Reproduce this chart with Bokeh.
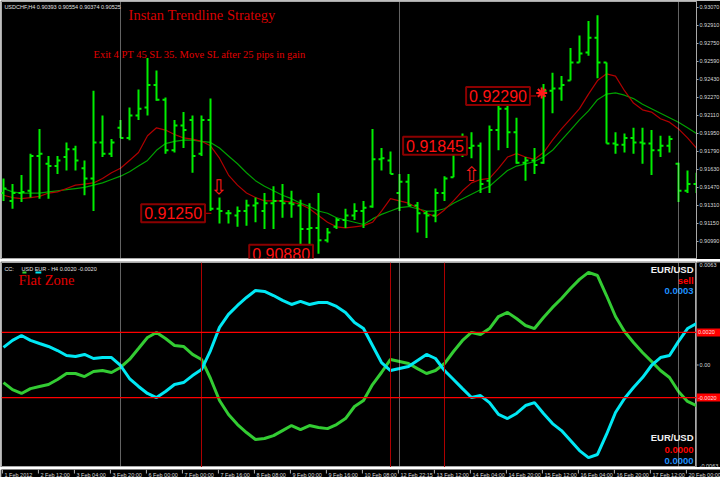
import numpy as np
from bokeh.plotting import figure
from bokeh.layouts import column, row
from bokeh.models import Range1d, LinearAxis, FixedTicker, PrintfTickFormatter, Span, Label
from bokeh.core.properties import value
from bokeh.embed import file_html
from bokeh.resources import INLINE

# ---------------- data ----------------
open_ = [0.9142,0.9135,0.9142,0.9144,0.9175,0.9168,0.9166,0.9174,0.9181,0.9164,
         0.9155,0.9187,0.9177,0.9200,0.9191,0.9211,0.9218,0.9238,0.9225,0.9180,
         0.9202,0.9207,0.9177,0.9207,0.9128,0.9124,0.9122,0.9126,0.9131,0.9126,
         0.9133,0.9135,0.9133,0.9131,0.9110,0.9111,0.9100,0.9112,0.9118,0.9122,
         0.9126,0.9130,0.9172,0.9171,0.9142,0.9152,0.9131,0.9124,0.9122,0.9142,
         0.9156,0.9185,0.9182,0.9184,0.9153,0.9198,0.9217,0.9196,0.9169,0.9171,
         0.9169,0.9233,0.9235,0.9242,0.9258,0.9267,0.9280,0.9258,0.9186,0.9185,
         0.9191,0.9187,0.9186,0.9180,0.9184,0.9168,0.9144,0.9150]
high_ = [0.9155,0.9150,0.9158,0.9177,0.9199,0.9175,0.9175,0.9187,0.9184,0.9171,
         0.9233,0.9211,0.9190,0.9207,0.9218,0.9234,0.9262,0.9251,0.9227,0.9207,
         0.9214,0.9211,0.9211,0.9226,0.9138,0.9127,0.9130,0.9136,0.9138,0.9142,
         0.9148,0.9150,0.9144,0.9136,0.9133,0.9142,0.9111,0.9120,0.9128,0.9133,
         0.9135,0.9199,0.9182,0.9179,0.9159,0.9159,0.9134,0.9126,0.9146,0.9157,
         0.9190,0.9195,0.9196,0.9187,0.9202,0.9229,0.9224,0.9209,0.9174,0.9182,
         0.9239,0.9249,0.9246,0.9271,0.9282,0.9295,0.9300,0.9258,0.9196,0.9195,
         0.9200,0.9200,0.9198,0.9193,0.9193,0.9169,0.9162,0.9160]
low_ = [0.9135,0.9128,0.9134,0.9138,0.9137,0.9137,0.9159,0.9162,0.9162,0.9140,
        0.9126,0.9174,0.9174,0.9191,0.9189,0.9207,0.9211,0.9224,0.9177,0.9178,
        0.9182,0.9160,0.9175,0.9126,0.9115,0.9115,0.9112,0.9113,0.9116,0.9110,
        0.9110,0.9120,0.9120,0.9089,0.9088,0.9088,0.9098,0.9110,0.9111,0.9118,
        0.9111,0.9129,0.9162,0.9159,0.9126,0.9131,0.9107,0.9102,0.9116,0.9135,
        0.9156,0.9174,0.9173,0.9142,0.9142,0.9180,0.9182,0.9168,0.9153,0.9159,
        0.9168,0.9213,0.9224,0.9242,0.9258,0.9264,0.9244,0.9186,0.9177,0.9178,
        0.9177,0.9168,0.9158,0.9174,0.9178,0.9134,0.9142,0.9142]
close_ = [0.9146,0.9142,0.9143,0.9175,0.9177,0.9166,0.9171,0.9181,0.9171,0.9155,
          0.9187,0.9177,0.9187,0.9191,0.9211,0.9217,0.9238,0.9225,0.9180,0.9202,
          0.9198,0.9175,0.9207,0.9128,0.9126,0.9124,0.9126,0.9131,0.9133,0.9133,
          0.9135,0.9133,0.9132,0.9110,0.9111,0.9100,0.9107,0.9118,0.9122,0.9126,
          0.9129,0.9172,0.9173,0.9159,0.9152,0.9131,0.9124,0.9122,0.9142,0.9155,
          0.9185,0.9182,0.9184,0.9150,0.9198,0.9217,0.9196,0.9169,0.9171,0.9167,
          0.9233,0.9235,0.9238,0.9258,0.9266,0.9280,0.9258,0.9186,0.9185,0.9191,
          0.9187,0.9186,0.9180,0.9184,0.9190,0.9144,0.9150,0.9150]
ma_fast = [0.9140,0.9138,0.9137,0.9138,0.9139,0.9142,0.9143,0.9146,0.9149,0.9150,
           0.9151,0.9155,0.9160,0.9164,0.9171,0.9178,0.9193,0.9200,0.9198,0.9194,
           0.9191,0.9190,0.9188,0.9184,0.9173,0.9158,0.9149,0.9142,0.9138,0.9135,
           0.9135,0.9135,0.9134,0.9132,0.9128,0.9122,0.9116,0.9112,0.9111,0.9112,
           0.9113,0.9116,0.9126,0.9137,0.9135,0.9133,0.9129,0.9124,0.9121,0.9127,
           0.9135,0.9144,0.9151,0.9154,0.9155,0.9164,0.9174,0.9177,0.9174,0.9172,
           0.9178,0.9189,0.9199,0.9208,0.9217,0.9230,0.9242,0.9248,0.9246,0.9233,
           0.9222,0.9216,0.9214,0.9208,0.9205,0.9199,0.9191,0.9182]
ma_slow = [0.9146,0.9143,0.9142,0.9142,0.9142,0.9143,0.9144,0.9145,0.9146,0.9147,
           0.9149,0.9151,0.9154,0.9157,0.9161,0.9166,0.9171,0.9180,0.9186,0.9188,
           0.9189,0.9189,0.9188,0.9187,0.9182,0.9175,0.9168,0.9160,0.9153,0.9148,
           0.9144,0.9140,0.9137,0.9133,0.9130,0.9126,0.9124,0.9120,0.9118,0.9116,
           0.9114,0.9119,0.9123,0.9126,0.9129,0.9130,0.9128,0.9126,0.9126,0.9128,
           0.9133,0.9137,0.9141,0.9145,0.9148,0.9155,0.9162,0.9166,0.9168,0.9170,
           0.9174,0.9180,0.9189,0.9198,0.9207,0.9215,0.9225,0.9230,0.9231,0.9229,
           0.9226,0.9221,0.9217,0.9213,0.9209,0.9205,0.9200,0.9195]
usd_line = [0.00108,0.00151,0.00181,0.00151,0.00132,0.00114,0.00089,0.00058,0.00052,0.00065,
            0.00040,0.00046,0.00046,-0.00003,-0.00083,-0.00132,-0.00175,-0.00200,-0.00163,-0.00120,
            -0.00108,-0.00065,-0.00028,0.00089,0.00231,0.00311,0.00366,0.00415,0.00458,0.00452,
            0.00427,0.00397,0.00372,0.00391,0.00372,0.00384,0.00384,0.00360,0.00323,0.00261,
            0.00224,0.00120,0.00015,-0.00034,-0.00022,-0.00009,0.00028,0.00065,0.00040,-0.00034,
            -0.00089,-0.00145,-0.00200,-0.00188,-0.00231,-0.00304,-0.00329,-0.00298,-0.00249,-0.00231,
            -0.00298,-0.00360,-0.00403,-0.00464,-0.00526,-0.00569,-0.00550,-0.00427,-0.00292,-0.00206,
            -0.00138,-0.00077,-0.00003,0.00046,0.00058,0.00145,0.00224,0.00255]
eur_line = [-0.00108,-0.00151,-0.00175,-0.00145,-0.00132,-0.00120,-0.00089,-0.00052,-0.00052,-0.00071,
            -0.00040,-0.00034,-0.00046,-0.00015,0.00034,0.00101,0.00169,0.00200,0.00163,0.00120,
            0.00114,0.00065,0.00034,-0.00083,-0.00218,-0.00304,-0.00366,-0.00415,-0.00458,-0.00452,
            -0.00434,-0.00403,-0.00372,-0.00397,-0.00372,-0.00384,-0.00391,-0.00366,-0.00329,-0.00255,
            -0.00218,-0.00120,-0.00046,0.00034,0.00022,0.00009,-0.00022,-0.00052,-0.00034,0.00009,
            0.00083,0.00151,0.00200,0.00188,0.00224,0.00298,0.00323,0.00286,0.00243,0.00224,
            0.00292,0.00354,0.00409,0.00470,0.00526,0.00569,0.00550,0.00427,0.00298,0.00206,
            0.00138,0.00077,0.00022,-0.00034,-0.00077,-0.00163,-0.00224,-0.00249]
time_labels = ["1 Feb 2012", "2 Feb 12:00", "3 Feb 04:00", "3 Feb 20:00", "6 Feb 00:00",
               "7 Feb 00:00", "7 Feb 16:00", "8 Feb 08:00", "9 Feb 00:00", "9 Feb 16:00",
               "10 Feb 08:00", "12 Feb 22:15", "13 Feb 12:00", "14 Feb 04:00", "14 Feb 20:00",
               "15 Feb 12:00", "16 Feb 04:00", "16 Feb 20:00", "17 Feb 12:00", "20 Feb 00:00"]
price_ticks = [0.90990, 0.91150, 0.91310, 0.91470, 0.91630, 0.91790, 0.91950,
               0.92110, 0.92270, 0.92430, 0.92590, 0.92750, 0.92910, 0.93070]
osc_ticks = [0.0063, 0.0, -0.0063]
osc_tick_labels = ["0.0063", "0.00", "-0.0063"]
week_sep = [13, 44, 75]
signal_bars = [22, 43, 49]
levels = [0.0020, -0.0020]
level_labels = ["0.0020", "-0.0020"]
price_boxes = ["0.91250", "0.90880", "0.91845", "0.92290"]
box_x = [15.3, 27.3, 44.4, 51.4]
box_y = [0.9124, 0.9088, 0.9184, 0.92283]
sell_arrow = (23.9, 0.9147)
buy_arrow = (52.0, 0.9159)
entry_star = (59.8, 0.9231)

# ---------------- styling ----------------
BG = "black"
FRAME = "#a8a8a8"
AX_TXT = "#d8d8d8"
FONT = "Liberation Sans"
bars = np.arange(len(close_))
xr = Range1d(-0.222, 77.0)
FW = 695


def base(fw, height, xrng, yr, left_b, right_b, top_b, bot_b, outline=FRAME, bg=BG):
    f = figure(frame_width=fw, frame_height=height, x_range=xrng, y_range=yr,
               output_backend="svg", toolbar_location=None, tools="", title=None,
               min_border_left=left_b, min_border_right=right_b, min_border_top=top_b,
               min_border_bottom=bot_b, background_fill_color=bg, border_fill_color=bg,
               outline_line_color=outline, x_axis_location=None, y_axis_location=None)
    f.grid.visible = False
    return f


# ---------------- price panel ----------------
top = base(FW, 257, xr, Range1d(0.90838, 0.93123), 1, 24, 1, 1)
ax = LinearAxis(ticker=FixedTicker(ticks=price_ticks), formatter=PrintfTickFormatter(format="%.5f"),
                major_label_text_font_size="5.5px", major_label_text_color=AX_TXT,
                major_label_text_font=FONT, axis_line_color=FRAME,
                major_tick_line_color=FRAME, major_tick_out=2, major_tick_in=0,
                minor_tick_line_color=None, major_label_standoff=1)
top.add_layout(ax, "right")
for s in week_sep:
    top.add_layout(Span(location=s, dimension="height", line_color="#c8c8c8",
                        line_dash="1 1", line_width=1))
top.line(bars, ma_slow, line_color="#00a000", line_width=1.2)
top.line(bars, ma_fast, line_color="#b00000", line_width=1.2)
BAR = "#00ee00"
top.segment(x0=bars, y0=low_, x1=bars, y1=high_, line_color=BAR, line_width=2)
top.segment(x0=bars - 0.33, y0=open_, x1=bars, y1=open_, line_color=BAR, line_width=2)
top.segment(x0=bars, y0=close_, x1=bars + 0.33, y1=close_, line_color=BAR, line_width=2)

top.text(x=[0.1], y=[0.9307], text=["USDCHF,H4  0.90393 0.90554 0.90374 0.90525"],
         text_font=value(FONT), text_font_size="5.5px", text_color="#e0e0e0",
         text_baseline="middle", text_align="left")
top.text(x=[13.9], y=[0.92999], text=["Instan Trendline Strategy"],
         text_font=value("Liberation Serif"), text_font_size="14.5px", text_color="#d80000",
         text_baseline="middle", text_align="left")
top.text(x=[10.0], y=[0.92652], text=["Exit 4  PT 45 SL 35. Move SL after 25 pips in gain"],
         text_font=value("Liberation Serif"), text_font_size="10.5px", text_color="#e00000",
         text_baseline="middle", text_align="left")
top.text(x=[sell_arrow[0]], y=[sell_arrow[1]], text=["\u21e9"], text_font=value("DejaVu Sans"),
         text_font_size="20px", text_color="#ff1a1a", text_baseline="middle", text_align="center")
top.text(x=[buy_arrow[0]], y=[buy_arrow[1]], text=["\u21e7"], text_font=value("DejaVu Sans"),
         text_font_size="20px", text_color="#ff1a1a", text_baseline="middle", text_align="center")
top.scatter(x=[entry_star[0]], y=[entry_star[1]], marker="asterisk", size=11,
            line_color="#ff1a1a", line_width=2)
top.segment(x0=[22.3, 58.4], y0=[0.9124, 0.92283], x1=[23.1, 59.2], y1=[0.9124, 0.92283],
            line_color="#cc0000", line_width=1)
for t, bx, by in zip(price_boxes, box_x, box_y):
    top.add_layout(Label(x=bx, y=by, text=t, text_font=FONT, text_font_size="16px",
                         text_color="#ff1010", text_baseline="middle", text_align="left",
                         border_line_color="#8b0000", border_line_width=2,
                         background_fill_color="black", padding=3))

# ---------------- separator band ----------------
sep = base(720, 2, Range1d(0, 1), Range1d(0, 1), 0, 0, 0, 0, outline=None, bg="#b8b8b8")

# ---------------- oscillator panel ----------------
oyr = Range1d(-0.0063, 0.0063)
bot = base(FW, 205, xr, oyr, 1, 0, 1, 0)
for s in week_sep:
    bot.add_layout(Span(location=s, dimension="height", line_color="#c8c8c8",
                        line_dash="1 1", line_width=1))
for s in signal_bars:
    bot.add_layout(Span(location=s, dimension="height", line_color="#b00000", line_width=1))
for lv in levels:
    bot.add_layout(Span(location=lv, dimension="width", line_color="#ff0000", line_width=1.2))
bot.line(bars, eur_line, line_color="#33cc33", line_width=3)
bot.line(bars, usd_line, line_color="#00e8f4", line_width=3)

bot.text(x=[0.1, 2.0], y=[0.00593, 0.00593], text=["CC:", "USD EUR - H4 0.0020 -0.0020"],
         text_font=value(FONT), text_font_size="5.5px", text_color="#e0e0e0",
         text_baseline="middle", text_align="left")
bot.segment(x0=[2.1, 3.55], y0=[0.00569, 0.00569], x1=[2.55, 4.2], y1=[0.00569, 0.00569],
            line_color=["#33cc33", "#00e8f4"], line_width=2)
bot.text(x=[1.67], y=[0.00523], text=["Flat Zone"], text_font=value("Liberation Serif"),
         text_font_size="14.5px", text_color="#e00000", text_baseline="middle", text_align="left")
bot.text(x=[76.67] * 6, y=[0.00587, 0.00517, 0.00452, -0.00446, -0.00520, -0.00590],
         text=["EUR/USD", "sell", "0.0003", "EUR/USD", "0.0000", "0.0000"],
         text_color=["#f0f0f0", "#ff0000", "#1e90ff", "#f0f0f0", "#ff0000", "#1e90ff"],
         text_font=value(FONT), text_font_style="bold", text_font_size="9.5px",
         text_baseline="middle", text_align="right")

# right-hand scale of the oscillator panel
bax = base(24, 205, Range1d(0, 1), oyr, 0, 0, 1, 0, outline=None)
bax.segment(x0=0, y0=osc_ticks, x1=0.09, y1=osc_ticks, line_color=FRAME, line_width=1)
bax.text(x=0.13, y=osc_ticks, text=osc_tick_labels, text_font=value(FONT),
         text_font_size="5.5px", text_color=AX_TXT, text_align="left",
         text_baseline=["top", "middle", "bottom"])
bax.rect(x=0.5, y=levels, width=1, height=8, height_units="screen",
         fill_color="#ff0000", line_color=None)
bax.text(x=0.06, y=levels, text=level_labels, text_font=value(FONT), text_font_size="5.5px",
         text_color="#ffe0e0", text_align="left", text_baseline="middle")

# ---------------- time label strip ----------------
sx = Range1d(-0.222, 79.67)
strip = base(719, 10, sx, Range1d(0, 1), 1, 0, 0, 0, outline=None)
tick_bars = np.arange(0, len(time_labels) * 4, 4)
strip.segment(x0=tick_bars - 0.12, y0=1.0, x1=tick_bars - 0.12, y1=0.6,
              line_color="#b0b0b0", line_width=1)
strip.text(x=tick_bars, y=0.45, text=time_labels, text_font=value(FONT),
           text_font_size="5.5px", text_color=AX_TXT, text_baseline="middle",
           text_align="left", x_offset=1)

layout = column(top, sep, row(bot, bax, spacing=0), strip, spacing=0)
open("out.html", "w").write(file_html(layout, INLINE))
